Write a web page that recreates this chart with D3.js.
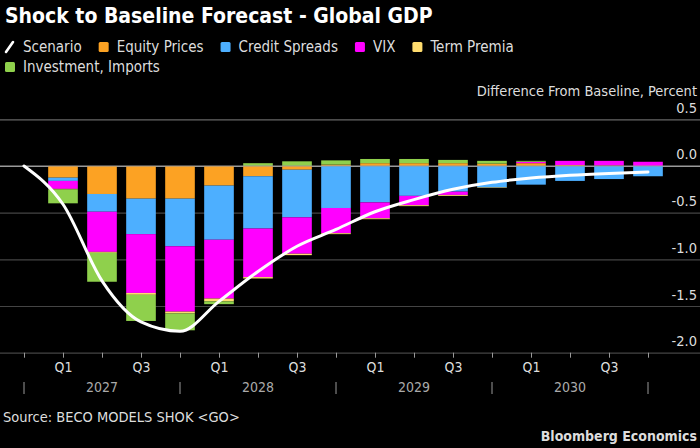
<!DOCTYPE html>
<html>
<head>
<meta charset="utf-8">
<script src="https://cdn.jsdelivr.net/npm/d3@7"></script>
<style>
  html, body { margin: 0; padding: 0; background: #000; }
  svg { display: block; }
  text { font-family: 'Liberation Sans Narrow', 'DejaVu Sans Condensed', 'Open Sans', sans-serif; }
</style>
</head>
<body>
<div id="chart"></div>
<script>
// Periods (quarter ends), first one is the start of the shock
const periods = ['2026Q4',
  '2027Q1', '2027Q2', '2027Q3', '2027Q4',
  '2028Q1', '2028Q2', '2028Q3', '2028Q4',
  '2029Q1', '2029Q2', '2029Q3', '2029Q4',
  '2030Q1', '2030Q2', '2030Q3', '2030Q4'];
const barPeriods = periods.slice(1);
const years = ['2027', '2028', '2029', '2030'];

// Contributions, percent difference from baseline
const equity = [-0.125, -0.30, -0.35, -0.35, -0.21, -0.11, -0.04, 0.015, 0.03, 0.03, 0.03, 0.025, 0.03, 0.01, 0.005, 0];
const credit = [-0.035, -0.19, -0.38, -0.51, -0.58, -0.56, -0.51, -0.45, -0.39, -0.32, -0.275, -0.23, -0.20, -0.16, -0.14, -0.11];
const vix = [-0.085, -0.43, -0.63, -0.70, -0.63, -0.52, -0.39, -0.27, -0.17, -0.10, -0.035, 0, 0.015, 0.045, 0.05, 0.045];
const term = [-0.005, -0.01, -0.02, -0.02, -0.03, -0.015, -0.015, -0.01, -0.01, -0.01, -0.01, -0.005, 0, 0, 0, 0];
const invest = [-0.15, -0.31, -0.28, -0.18, -0.03, 0.03, 0.05, 0.045, 0.045, 0.045, 0.035, 0.03, 0.01, 0, 0, 0];
const scenario = [0, -0.41, -1.23, -1.67, -1.77, -1.45, -1.13, -0.86, -0.68, -0.49, -0.36, -0.25, -0.175, -0.13, -0.10, -0.08, -0.065];

const seriesNames = ['Equity Prices', 'Credit Spreads', 'VIX', 'Term Premia', 'Investment, Imports'];
const seriesValues = [equity, credit, vix, term, invest];
const seriesColors = ['#fca223', '#4dafff', '#ff00ff', '#ffdc6e', '#8fd04c'];
const yTicks = [0.5, 0, -0.5, -1, -1.5, -2];

const width = 700, height = 448;

const svg = d3.select('#chart').append('svg')
  .attr('width', width)
  .attr('height', height);

// Scales
const x = d3.scalePoint().domain(periods).range([24, 648]);
const y = d3.scaleLinear().domain([-2, 0.5]).range([352.7, 119.3]);
const barW = x.step() * 0.76;

// Table for stacking
const table = barPeriods.map((p, i) => {
  const row = { period: p };
  seriesNames.forEach((n, j) => { row[n] = seriesValues[j][i]; });
  return row;
});
const stack = d3.stack().keys(seriesNames).offset(d3.stackOffsetDiverging)(table);

// Title
svg.append('text')
  .attr('x', 5).attr('y', 23)
  .attr('fill', '#fff')
  .attr('font-size', 21).attr('font-weight', 'bold')
  .text('Shock to Baseline Forecast - Global GDP');

// Legend
const legend = svg.append('g');
const items = [{ name: 'Scenario', color: '#fff', line: true }]
  .concat(seriesNames.map((n, i) => ({ name: n, color: seriesColors[i] })));
let lx = 5, ly = 52;
items.forEach((it, i) => {
  if (i === 5) { lx = 5; ly = 72; }
  const g = legend.append('g').attr('transform', `translate(${lx},${ly})`);
  if (it.line) {
    g.append('line').attr('x1', 1).attr('y1', 0).attr('x2', 8).attr('y2', -10)
      .attr('stroke', it.color).attr('stroke-width', 2.6).attr('stroke-linecap', 'round');
  } else {
    g.append('rect').attr('x', 0).attr('y', -10).attr('width', 10).attr('height', 10)
      .attr('rx', 1.5).attr('fill', it.color);
  }
  const t = g.append('text').attr('x', 18).attr('fill', '#ddd')
    .attr('font-size', 15).text(it.name);
  lx += 18 + t.node().getComputedTextLength() + 17;
});

// Axis unit
svg.append('text')
  .attr('x', 697).attr('y', 96)
  .attr('text-anchor', 'end').attr('fill', '#ddd').attr('font-size', 14.5)
  .text('Difference From Baseline, Percent');

// Y grid and labels
const yAxis = svg.append('g')
  .attr('transform', `translate(${width},0)`)
  .call(d3.axisLeft(y).tickValues(yTicks).tickSize(width)
    .tickFormat(d => d3.format('.1f')(d).replace('\u2212', '-')));
yAxis.select('.domain').remove();
yAxis.selectAll('.tick line')
  .attr('stroke', d => d === 0 ? '#9a9a9a' : (d === 0.5 ? '#666' : '#444'))
  .attr('stroke-width', 1.2);
yAxis.selectAll('.tick text')
  .attr('x', -3).attr('dy', -7)
  .attr('fill', '#ddd').attr('font-size', 14.5)
  .attr('text-anchor', 'end');

// Bars
svg.append('g').selectAll('g')
  .data(stack)
  .join('g')
  .attr('fill', (d, i) => seriesColors[i])
  .selectAll('rect')
  .data(d => d)
  .join('rect')
  .attr('x', d => x(d.data.period) - barW / 2)
  .attr('width', barW)
  .attr('y', d => y(Math.max(d[0], d[1])))
  .attr('height', d => Math.abs(y(d[0]) - y(d[1])));

// Zero line drawn above bars
svg.append('line')
  .attr('x1', 0).attr('x2', width)
  .attr('y1', y(0)).attr('y2', y(0))
  .attr('stroke', '#9a9a9a').attr('stroke-width', 1.2);

// Scenario line
svg.append('path')
  .datum(scenario)
  .attr('fill', 'none')
  .attr('stroke', '#fff')
  .attr('stroke-width', 3)
  .attr('stroke-linecap', 'round')
  .attr('d', d3.line().x((d, i) => x(periods[i])).y(d => y(d)).curve(d3.curveMonotoneX));

// X axis
const xAxis = svg.append('g')
  .attr('transform', `translate(0,${y(-2)})`)
  .call(d3.axisBottom(x).tickSize(5).tickPadding(4)
    .tickFormat(p => (p.endsWith('Q1') || p.endsWith('Q3')) ? p.slice(4) : ''));
xAxis.select('.domain').remove();
xAxis.selectAll('.tick line').attr('stroke', '#999');
xAxis.selectAll('.tick text').attr('fill', '#ddd').attr('font-size', 14);

// Year dividers and labels
const yearEdges = periods.filter(p => p.endsWith('Q4'));
svg.append('g').selectAll('line')
  .data(yearEdges)
  .join('line')
  .attr('x1', d => x(d)).attr('x2', d => x(d))
  .attr('y1', 382).attr('y2', 394)
  .attr('stroke', '#999');
svg.append('g').selectAll('text')
  .data(years)
  .join('text')
  .attr('x', d => x(d + 'Q2'))
  .attr('y', 392)
  .attr('text-anchor', 'middle')
  .attr('fill', '#aaa').attr('font-size', 14)
  .text(d => d);

// Footer
svg.append('text')
  .attr('x', 3).attr('y', 422)
  .attr('fill', '#ddd').attr('font-size', 14.5)
  .text('Source: BECO MODELS SHOK <GO>');
svg.append('text')
  .attr('x', 697).attr('y', 441)
  .attr('text-anchor', 'end')
  .attr('fill', '#ddd').attr('font-size', 14).attr('font-weight', 'bold')
  .text('Bloomberg Economics');
</script>
</body>
</html>
